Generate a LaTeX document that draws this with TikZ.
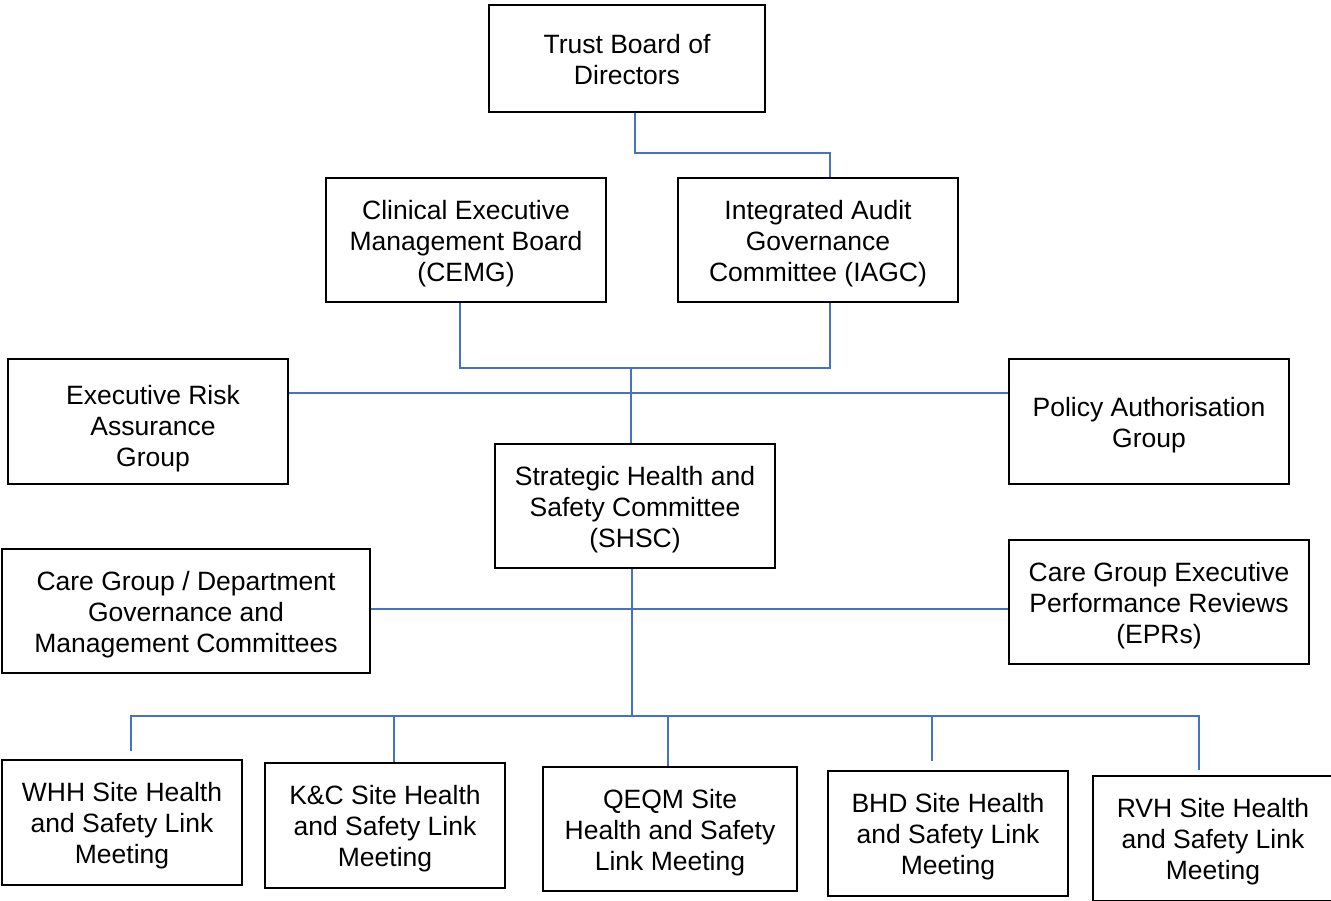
\documentclass[tikz,border=0pt]{standalone}
\usepackage{fontspec}
\setmainfont{Liberation Sans}
\definecolor{linkblue}{RGB}{68,114,196}
% centred lines, lowered a little inside the box
\newcommand\boxlines[2][-4pt]{\raisebox{#1}[\height][\depth]{\begin{tabular}{@{}c@{}}#2\end{tabular}}}
\tikzset{
  box/.style={draw=black, line width=1.2pt, inner sep=0pt,
    font=\fontsize{26.5}{31}\selectfont},
  link/.style={linkblue, line width=1.2pt}
}
\begin{document}
\begin{tikzpicture}[x=1pt,y=-1pt]
            \useasboundingbox (0,0) rectangle (1331,900);
            \clip (0,0) rectangle (1331,900);

            % boxes
            \node[box, minimum width=276, minimum height=107] (board) at (627,58.5) {\boxlines{Trust Board of\\Directors}};
            \node[box, minimum width=280, minimum height=124] (cemg) at (466,240) {\boxlines{Clinical Executive\\Management Board\\(CEMG)}};
            \node[box, minimum width=280, minimum height=124] (iagc) at (818,240) {\boxlines{Integrated Audit\\Governance\\Committee (IAGC)}};
            \node[box, minimum width=280, minimum height=125] (erag) at (148,421.5) {\hspace*{10pt}\boxlines[-8pt]{Executive Risk\\Assurance\\Group}};
            \node[box, minimum width=280, minimum height=125] (pag) at (1149,421.5) {\boxlines{Policy Authorisation\\Group}};
            \node[box, minimum width=280, minimum height=124] (shsc) at (635,506) {\boxlines{Strategic Health and\\Safety Committee\\(SHSC)}};
            \node[box, minimum width=368, minimum height=124] (cgdept) at (186,611) {\boxlines{Care Group / Department\\Governance and\\Management Committees}};
            \node[box, minimum width=300, minimum height=124] (epr) at (1159,602) {\boxlines{Care Group Executive\\Performance Reviews\\(EPRs)}};

            \node[box, minimum width=240, minimum height=125] (whh) at (122,822.5) {\boxlines{WHH Site Health\\and Safety Link\\Meeting}};
            \node[box, minimum width=240, minimum height=125] (kc) at (385,825.5) {\boxlines{K\&C Site Health\\and Safety Link\\Meeting}};
            \node[box, minimum width=254, minimum height=124] (qeqm) at (670,829) {\boxlines{QEQM Site\\Health and Safety\\Link Meeting}};
            \node[box, minimum width=240, minimum height=125] (bhd) at (948,833.5) {\boxlines{BHD Site Health\\and Safety Link\\Meeting}};
            \node[box, minimum width=240, minimum height=125] (rvh) at (1213,838.5) {\boxlines{RVH Site Health\\and Safety Link\\Meeting}};

            % junctions
            \coordinate (jboard) at (635,153);
            \coordinate (jjoin) at (631,368);
            \coordinate (jrisk) at (631,393);
            \coordinate (jcare) at (632,609);
            \coordinate (jsite) at (632,716);

            % connectors
            \draw[link] (board.south -| jboard) -- (jboard) -| ([xshift=12]iagc.north);
            \draw[link] ([xshift=-6]cemg.south) |- (jjoin) -| ([xshift=12]iagc.south);
            \draw[link] (jjoin) -- (shsc.north -| jjoin);
            \draw[link] (erag.east |- jrisk) -- (pag.west |- jrisk);
            \draw[link] (cgdept.east |- jcare) -- (epr.west |- jcare);
            \draw[link] (shsc.south -| jsite) -- (jsite);

            \foreach \site/\dx/\gap in {whh/9/8, kc/9/0, qeqm/-2/0, bhd/-16/9, rvh/-14/5}
                \draw[link] ([xshift=\dx,yshift=\gap]\site.north) |- (jsite);
        \end{tikzpicture}
\end{document}
